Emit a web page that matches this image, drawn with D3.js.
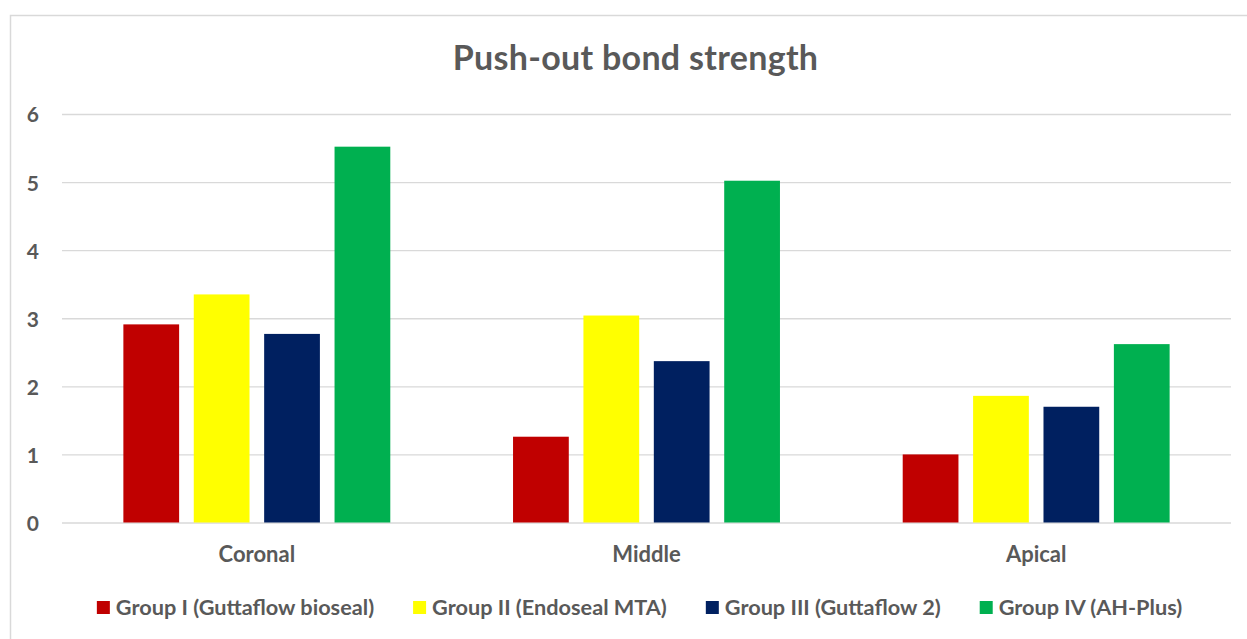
<!DOCTYPE html>
<html>
<head>
<meta charset="utf-8">
<script src="https://cdn.jsdelivr.net/npm/d3@7"></script>
<style>
  body { margin: 0; background: #fff; }
  text { font-family: Lato, "Open Sans", sans-serif; font-weight: bold; fill: #595959; }
</style>
</head>
<body>
<div id="chart"></div>
<script>
const width = 1247, height = 639;

// data
const regions = ["Coronal", "Middle", "Apical"];
const groups = [
  "Group I (Guttaflow bioseal)",
  "Group II (Endoseal MTA)",
  "Group III (Guttaflow 2)",
  "Group IV (AH-Plus)"
];
const groupColors = ["#C00000", "#FFFF00", "#002060", "#00B050"];
const groupI   = [2.91, 1.26, 1.00];
const groupII  = [3.35, 3.04, 1.86];
const groupIII = [2.77, 2.37, 1.70];
const groupIV  = [5.52, 5.02, 2.62];
const yTicks = [0, 1, 2, 3, 4, 5, 6];

const seriesValues = [groupI, groupII, groupIII, groupIV];
const data = regions.map((r, i) => ({
  region: r,
  values: groups.map((g, j) => ({ group: g, value: seriesValues[j][i] }))
}));

const margin = { top: 114, right: 16, bottom: 116.5, left: 62 };
const innerWidth = width - margin.left - margin.right;
const innerHeight = height - margin.top - margin.bottom;

const svg = d3.select("#chart")
  .append("svg")
    .attr("width", width)
    .attr("height", height)
    .style("display", "block");

// chart frame: only its left and top edges are in the picture
svg.append("path")
  .attr("d", `M10.5,${height} V15.5 H${width}`)
  .attr("fill", "none")
  .attr("stroke", "#d9d9d9")
  .attr("stroke-width", 1.5);

svg.append("text")
  .attr("x", 635.5)
  .attr("y", 70)
  .attr("text-anchor", "middle")
  .style("font-size", "34px")
  .style("letter-spacing", "0.3px")
  .text("Push-out bond strength");

const innerChart = svg.append("g")
  .attr("transform", `translate(${margin.left}, ${margin.top})`);

const xScale = d3.scaleBand()
  .domain(regions)
  .range([0, innerWidth])
  .paddingInner(0.315)
  .paddingOuter(0.1575);

const xInner = d3.scaleBand()
  .domain(groups)
  .range([0, xScale.bandwidth()])
  .paddingInner(0.208)
  .paddingOuter(0);

const yScale = d3.scaleLinear()
  .domain([0, 6])
  .range([innerHeight, 0]);

const colorScale = d3.scaleOrdinal()
  .domain(groups)
  .range(groupColors);

// gridlines
const grid = innerChart.append("g")
  .call(d3.axisLeft(yScale).tickValues(yTicks).tickSize(-innerWidth).tickFormat(""));
grid.select(".domain").remove();
grid.selectAll(".tick text").remove();
grid.selectAll(".tick line")
  .attr("stroke", "#d9d9d9")
  .attr("stroke-width", 1.3);

// bars
innerChart.selectAll(".cluster")
  .data(data)
  .join("g")
    .attr("class", "cluster")
    .attr("transform", d => `translate(${xScale(d.region)}, 0)`)
  .selectAll("rect")
  .data(d => d.values)
  .join("rect")
    .attr("x", d => xInner(d.group))
    .attr("y", d => yScale(d.value))
    .attr("width", xInner.bandwidth())
    .attr("height", d => innerHeight - yScale(d.value))
    .attr("fill", d => colorScale(d.group));

// y labels
const leftAxis = innerChart.append("g")
  .call(d3.axisLeft(yScale).tickValues(yTicks).tickFormat(d3.format("d")).tickSize(0).tickPadding(23));
leftAxis.select(".domain").remove();
leftAxis.selectAll("text")
  .attr("dy", "0.38em")
  .style("font-size", "21px");

// x labels
const bottomAxis = innerChart.append("g")
  .attr("transform", `translate(0, ${innerHeight})`)
  .call(d3.axisBottom(xScale).tickSize(0).tickPadding(0));
bottomAxis.select(".domain").remove();
bottomAxis.selectAll("text")
  .attr("y", 39)
  .attr("dy", null)
  .style("font-size", "22px");

// legend, centred under the chart
const legend = svg.append("g");
const items = legend.selectAll("g")
  .data(groups)
  .join("g");
items.append("rect")
  .attr("y", 601)
  .attr("width", 13)
  .attr("height", 13)
  .attr("fill", d => colorScale(d));
items.append("text")
  .attr("x", 19)
  .attr("y", 615)
  .style("font-size", "21.7px")
  .text(d => d);

let cursor = 0;
items.each(function () {
  const w = d3.select(this).select("text").node().getComputedTextLength();
  d3.select(this).attr("transform", `translate(${cursor}, 0)`);
  cursor += 19 + w + 39;
});
const legendWidth = cursor - 39;
legend.attr("transform", `translate(${(96 + 1183) / 2 - legendWidth / 2}, 0)`);
</script>
</body>
</html>
